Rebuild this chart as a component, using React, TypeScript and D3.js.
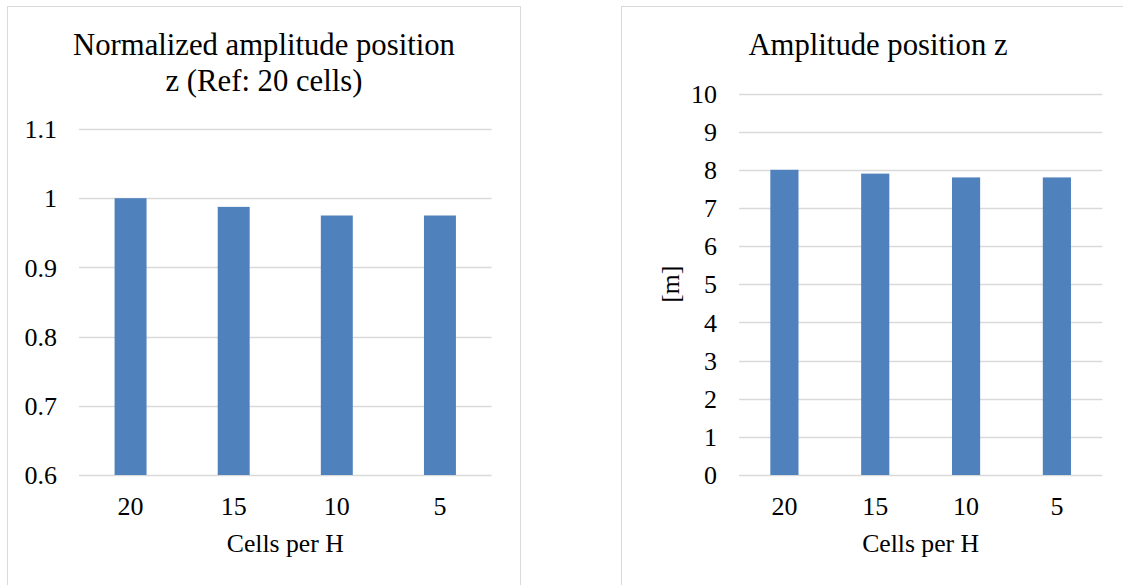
import React from "react";
import * as d3 from "d3";

const categories = ["20", "15", "10", "5"];
const normalizedValues = [1, 0.9875, 0.975, 0.975];
const amplitudeValues = [8, 7.9, 7.8, 7.8];
const normalizedTicks = [0.6, 0.7, 0.8, 0.9, 1, 1.1];
const amplitudeTicks = [0, 1, 2, 3, 4, 5, 6, 7, 8, 9, 10];

const FONT = "'Liberation Serif', 'Times New Roman', serif";
const BAR = "#4F81BD";
const GRID = "#D9D9D9";

type PanelProps = {
  frameX: number;
  titleLines: string[];
  values: number[];
  ticks: number[];
  domain: [number, number];
  plotX: [number, number];
  plotY: [number, number];
  yTitle?: string;
  yTitleX?: number;
  tickFormat: (v: number) => string;
};

function Panel(p: PanelProps) {
  const x = d3.scaleBand<string>().domain(categories).range(p.plotX).paddingInner(0.69).paddingOuter(0.345);
  const y = d3.scaleLinear().domain(p.domain).range(p.plotY);
  const frameW = 513;
  const cx = p.frameX + frameW / 2;
  const plotCx = (p.plotX[0] + p.plotX[1]) / 2;
  return (
    <g>
      <rect x={p.frameX} y={6.5} width={frameW} height={600} fill="#fff" stroke={GRID} strokeWidth={1} />
      {p.titleLines.map((t, i) => (
        <text key={i} x={cx} y={55 + i * 35.5} textAnchor="middle" fontFamily={FONT} fontSize={30.7} fill="#000">
          {t}
        </text>
      ))}
      {p.ticks.map((t) => (
        <g key={t}>
          <line x1={p.plotX[0]} x2={p.plotX[1]} y1={Math.round(y(t)) + 0.5} y2={Math.round(y(t)) + 0.5} stroke={GRID} strokeWidth={1.3} />
          <text x={p.plotX[0] - 22} y={y(t)} dy="0.35em" textAnchor="end" fontFamily={FONT} fontSize={26} fill="#000">
            {p.tickFormat(t)}
          </text>
        </g>
      ))}
      {p.values.map((v, i) => (
        <rect key={i} x={x(categories[i])} y={y(v)} width={x.bandwidth()} height={y(p.domain[0]) - y(v)} fill={BAR} />
      ))}
      {categories.map((c) => (
        <text key={c} x={(x(c) as number) + x.bandwidth() / 2} y={515} textAnchor="middle" fontFamily={FONT} fontSize={26} fill="#000">
          {c}
        </text>
      ))}
      <text x={plotCx} y={551.5} textAnchor="middle" fontFamily={FONT} fontSize={25.7} fill="#000">
        Cells per H
      </text>
      {p.yTitle && (
        <text
          transform={`translate(${p.yTitleX},${(p.plotY[0] + p.plotY[1]) / 2}) rotate(-90)`}
          textAnchor="middle"
          fontFamily={FONT}
          fontSize={25.7}
          fill="#000"
        >
          {p.yTitle}
        </text>
      )}
    </g>
  );
}

export default function App() {
  return (
    <svg
      width={1123}
      height={585}
      style={{ position: "absolute", left: 0, top: 0, background: "#fff" }}
    >
      <rect x={0} y={0} width={1123} height={585} fill="#fff" />
      <Panel
        frameX={7.5}
        titleLines={["Normalized amplitude position", "z (Ref: 20 cells)"]}
        values={normalizedValues}
        ticks={normalizedTicks}
        domain={[0.6, 1.1]}
        plotX={[79, 491.5]}
        plotY={[475, 129]}
        tickFormat={(v) => d3.format("~g")(v)}
      />
      <Panel
        frameX={621.5}
        titleLines={["Amplitude position z"]}
        values={amplitudeValues}
        ticks={amplitudeTicks}
        domain={[0, 10]}
        plotX={[739, 1102.3]}
        plotY={[475, 93.5]}
        yTitle="[m]"
        yTitleX={679}
        tickFormat={(v) => String(v)}
      />
    </svg>
  );
}
